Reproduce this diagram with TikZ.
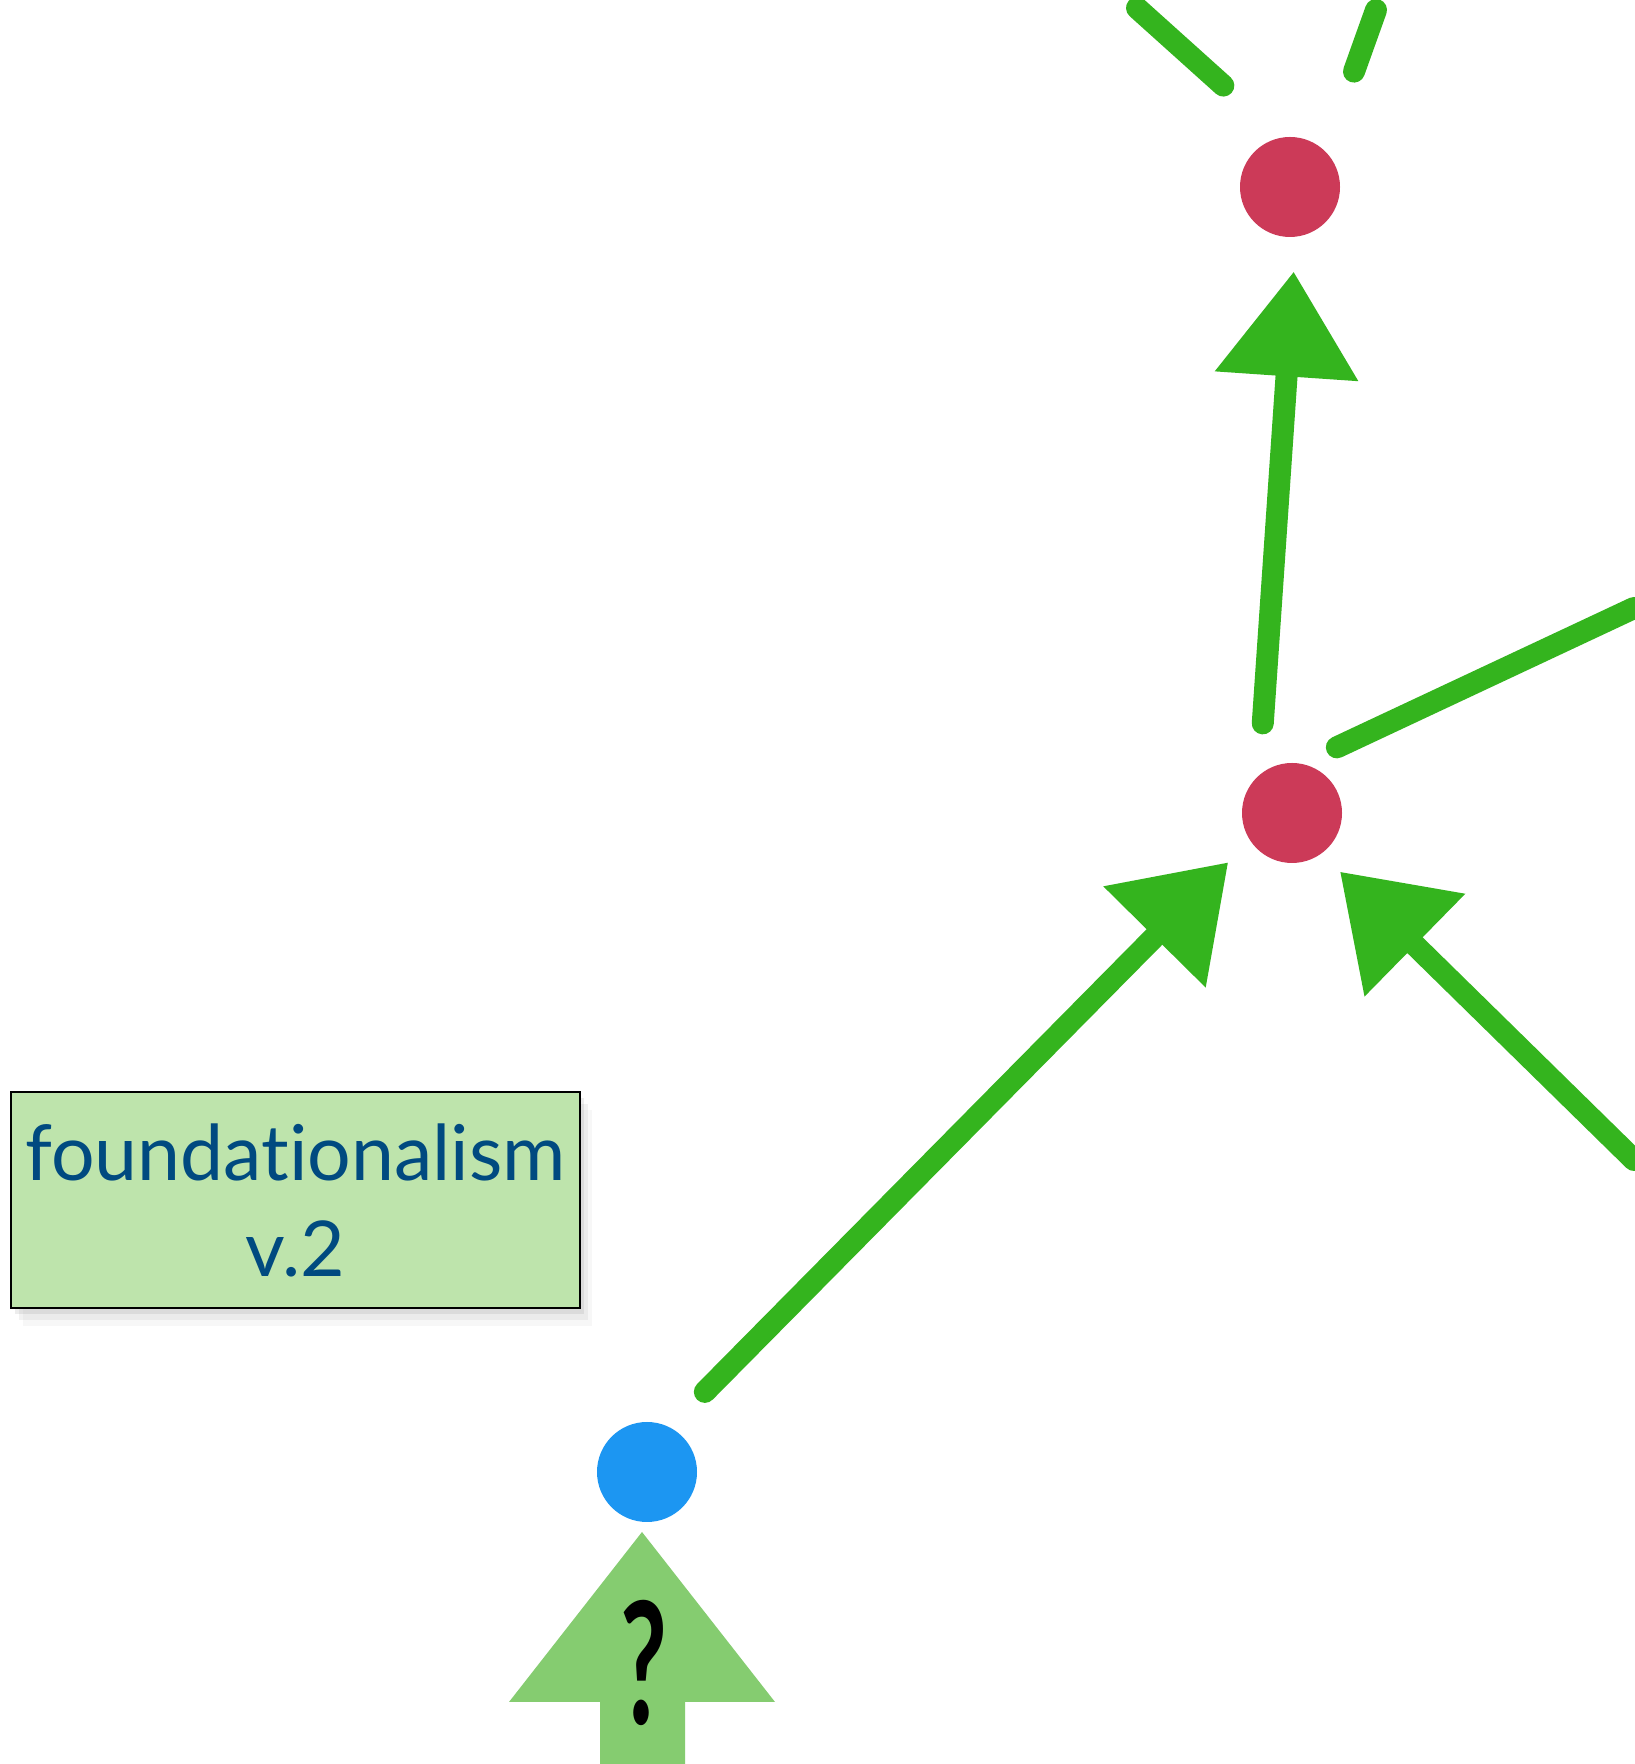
\documentclass[tikz,border=0pt]{standalone}
\usepackage{fontspec}
\setmainfont{Lato}[Ligatures=NoCommon]
\usetikzlibrary{arrows.meta,shadows}
\definecolor{gr}{RGB}{52,180,30}
\definecolor{redd}{RGB}{204,58,88}
\definecolor{blu}{RGB}{28,150,242}
\definecolor{bigar}{RGB}{133,204,112}
\definecolor{boxfill}{RGB}{190,228,172}
\definecolor{txt}{RGB}{0,74,128}
\begin{document}
\begin{tikzpicture}[x=1pt,y=1pt,
  dot/.style={circle,inner sep=0pt,outer sep=0pt,minimum size=100pt},
  gline/.style={draw=gr,line width=22pt,line cap=round},
  garrow/.style={gline,-{Triangle[length=105pt,width=138pt]}},
  labelbox/.style={draw=black,line width=2pt,fill=boxfill,text=txt,align=center,
    minimum width=569pt,minimum height=216pt,inner sep=0pt,
    font=\fontsize{77}{96}\selectfont,
    drop shadow={shadow xshift=4pt,shadow yshift=-6pt,opacity=0.14},
    drop shadow={shadow xshift=8pt,shadow yshift=-12pt,opacity=0.10},
    drop shadow={shadow xshift=12pt,shadow yshift=-18pt,opacity=0.06}},
  qmark/.style={anchor=base,inner sep=0pt,font=\fontsize{170}{170}\selectfont\bfseries}]
\fill[white] (0,0) rectangle (1634,1764);
\useasboundingbox (0,0) rectangle (1634,1764);

% dots
\node[dot,fill=redd] (top) at (1290,1577) {};
\node[dot,fill=redd] (mid) at (1292,951) {};
\node[dot,fill=blu] (blue) at (647,292) {};

% free ends
\coordinate (tl) at (1137,1756);
\coordinate (tr) at (1376,1754);
\coordinate (rr) at (1634,1156);
\coordinate (rb) at (1634,604);

% connectors
\draw[gline,shorten >=78pt] (tl) -- (top.100);
\draw[gline,shorten >=85pt] (tr) -- (top.45);
\draw[garrow,shorten <=52pt,shorten >=35pt] (mid.131) -- (top.-83);
\draw[gline,shorten <=39pt] (mid.79) -- (rr);
\draw[garrow,shorten <=50pt,shorten >=31pt] (blue.63) -- (mid.213);
\draw[garrow,shorten >=26pt] (rb) -- (mid.-54);

% label box
\node[labelbox] (fv2) at (295.5,564) {foundationalism\\v.2};

% big arrow with question mark
\fill[bigar] (600,0) -- (600,62) -- (509,62) -- (642,232) -- (775,62) -- (685,62) -- (685,0) -- cycle;
\node[qmark] (q) at (644,39) {\scalebox{0.6}[1]{?}};
\end{tikzpicture}
\end{document}
